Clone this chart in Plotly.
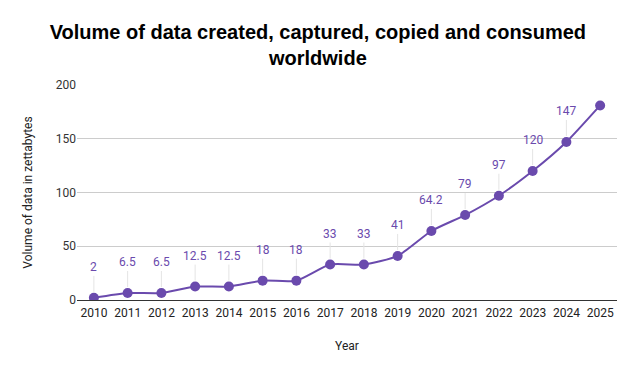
import plotly.graph_objects as go

years = list(range(2010, 2026))
volume = [2, 6.5, 6.5, 12.5, 12.5, 18, 18, 33, 33, 41, 64.2, 79, 97, 120, 147, 181]
labels = ["2", "6.5", "6.5", "12.5", "12.5", "18", "18", "33", "33", "41", "64.2", "79", "97", "120", "147", ""]
y_ticks = [0, 50, 100, 150, 200]

purple = "#6a4aad"

fig = go.Figure()
fig.add_trace(go.Scatter(
    x=years, y=volume, mode="lines+markers",
    line=dict(color=purple, width=2, shape="spline", smoothing=0.6),
    marker=dict(color=purple, size=10),
    hoverinfo="x+y",
))

annotations = []
for x, y, t in zip(years, volume, labels):
    if not t:
        continue
    annotations.append(dict(
        x=x, y=y, xref="x", yref="y", text=t, showarrow=True,
        ax=0, ay=-22, arrowhead=0, arrowwidth=1, arrowcolor="#e4e4e4",
        standoff=6, font=dict(family="Roboto, Arial", size=12, color=purple),
        yanchor="bottom",
    ))

fig.update_layout(
    width=635, height=371,
    margin=dict(l=69, r=26, t=77, b=79),
    paper_bgcolor="white", plot_bgcolor="white",
    showlegend=False,
    title=dict(
        text="<b>Volume of data created, captured, copied and consumed<br>worldwide</b>",
        x=0.488, xanchor="center", y=0.917, yanchor="top",
        font=dict(family="Arial", size=20, color="#000"),
    ),
    font=dict(family="Roboto, Arial", size=12, color="#222"),
    annotations=annotations,
    xaxis=dict(
        range=[2009.5, 2025.5], tickmode="array", tickvals=years,
        ticktext=[str(y) for y in years], showgrid=False, zeroline=False,
        showline=False, ticks="", ticklabelstandoff=4,
        tickfont=dict(size=12, color="#222"),
        title=dict(text="Year", font=dict(size=12, color="#222"), standoff=22),
    ),
    yaxis=dict(
        range=[0, 200], tickmode="array", tickvals=y_ticks,
        showgrid=True, gridcolor="#cccccc", gridwidth=1, zeroline=True,
        zerolinecolor="#333333", zerolinewidth=1, ticks="",
        tickfont=dict(size=12, color="#333"),
        title=dict(text="Volume of data in zettabytes", font=dict(size=12, color="#222"), standoff=20),
    ),
)

fig.write_html("out.html")
